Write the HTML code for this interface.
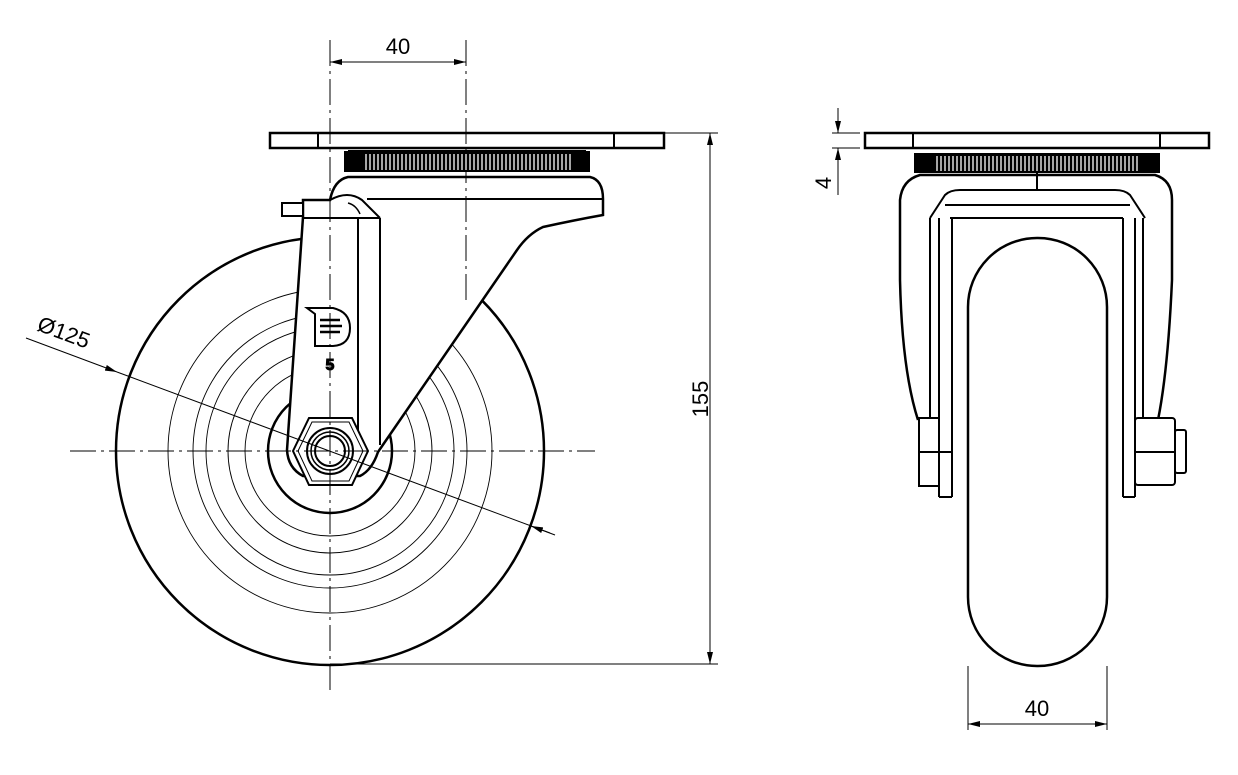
<!DOCTYPE html>
<html><head><meta charset="utf-8"><style>
html,body{margin:0;padding:0;background:#fff;width:1238px;height:775px;overflow:hidden}
svg{display:block}
text{font-family:"Liberation Sans",sans-serif;fill:#000}
</style></head><body>
<svg width="1238" height="775" viewBox="0 0 1238 775" xmlns="http://www.w3.org/2000/svg">
<defs>
<marker id="ar" markerWidth="12" markerHeight="6" refX="12" refY="3" orient="auto" markerUnits="userSpaceOnUse"><path d="M0,0 L12,3 L0,6 Z" fill="#000"/></marker>
<marker id="al" markerWidth="12" markerHeight="6" refX="0" refY="3" orient="auto" markerUnits="userSpaceOnUse"><path d="M12,0 L0,3 L12,6 Z" fill="#000"/></marker>
</defs>
<g fill="none" stroke="#000">
<!-- LEFT VIEW wheel -->
<circle cx="330" cy="451" r="214" stroke-width="2.5"/>
<g stroke-width="0.9">
<circle cx="330" cy="451" r="162"/><circle cx="330" cy="451" r="137"/><circle cx="330" cy="451" r="124"/><circle cx="330" cy="451" r="102"/><circle cx="330" cy="451" r="85"/>
</g>
<circle cx="330" cy="451" r="62" stroke-width="2.5" fill="#fff"/>
<!-- housing + fork -->
<path d="M330,200 Q334,180 348,177 L590,177 Q603,180 603,199 L603,215 Q575,220 543,227 Q528,234 517,250 L378,452 Q372,470 360,476 L303,476 Q288,468 287,450 L303,217 L303,200 Z" fill="#fff" stroke-width="2.5"/>
<line x1="367" y1="199" x2="603" y2="199" stroke-width="2"/>
<line x1="303" y1="218" x2="380" y2="218" stroke-width="2"/>
<line x1="358" y1="218" x2="358" y2="470" stroke-width="2"/>
<line x1="380" y1="218" x2="380" y2="445" stroke-width="2"/>
<path d="M330,200 Q348,190 362,200 L380,218" stroke-width="2"/>
<path d="M348,203 Q356,205 360,214" stroke-width="1.5"/>
<rect x="282" y="203" width="21" height="13" fill="#fff" stroke-width="2"/>
<!-- plate & ring -->
<rect x="270" y="133" width="394" height="15" fill="#fff" stroke-width="2.5"/>
<line x1="318" y1="133" x2="318" y2="148" stroke-width="2"/>
<line x1="614" y1="133" x2="614" y2="148" stroke-width="2"/>
<rect x="344" y="151" width="246" height="21" fill="#000" stroke="none"/>
<path d="M348,151 L586,151" stroke-width="2"/>
<!-- hex nut -->
<polygon points="293,451 309,418 352,418 368,451 352,485 309,485" fill="#fff" stroke-width="2"/>
<polygon points="298,451 312,422 349,422 363,451 349,481 312,481" stroke-width="1"/>
<circle cx="330" cy="451" r="23" stroke-width="2"/>
<circle cx="330" cy="451" r="19" stroke-width="1.5"/>
<circle cx="330" cy="451" r="15" stroke-width="2"/>
<!-- logo -->
<path d="M307,308 L333,308 Q350,312 350,328 Q350,345 333,346 L315,346 L315,314 L307,308 Z" stroke-width="2"/>
<path d="M320,320 L340,320 M320,326 L342,326 M320,332 L340,332" stroke-width="2.5"/>
<text x="330" y="370" font-size="16" font-weight="bold" text-anchor="middle">5</text>
<!-- center lines -->
<g stroke-width="1" stroke-dasharray="26,5,3,5">
<line x1="330" y1="40" x2="330" y2="690"/>
<line x1="466" y1="40" x2="466" y2="300"/>
<line x1="70" y1="451" x2="595" y2="451"/>
</g>
<!-- dims left -->
<line x1="330" y1="62" x2="466" y2="62" stroke-width="1" marker-start="url(#al)" marker-end="url(#ar)"/>
<line x1="664" y1="133" x2="718" y2="133" stroke-width="1"/>
<line x1="330" y1="664" x2="718" y2="664" stroke-width="1"/>
<line x1="710" y1="133" x2="710" y2="664" stroke-width="1" marker-start="url(#al)" marker-end="url(#ar)"/>
<line x1="26" y1="338" x2="117" y2="372" stroke-width="1" marker-end="url(#ar)"/>
<line x1="117" y1="372" x2="550" y2="533" stroke-width="1"/>
<line x1="555" y1="535" x2="531" y2="526" stroke-width="1" marker-end="url(#ar)"/>

<!-- RIGHT VIEW -->
<path d="M918,420 Q902,370 900,280 L900,200 Q902,180 920,175 L1155,175 Q1172,180 1172,200 L1172,280 Q1168,370 1158,420" fill="#fff" stroke-width="2.5"/>
<line x1="1037" y1="173" x2="1037" y2="191" stroke-width="2"/>
<path d="M930,218 L945,195 Q950,190 960,190 L1115,190 Q1125,190 1130,195 L1145,218" stroke-width="2"/>
<line x1="945" y1="205" x2="1130" y2="205" stroke-width="2"/>
<line x1="950" y1="218" x2="1123" y2="218" stroke-width="2"/>
<g stroke-width="2">
<line x1="930" y1="218" x2="930" y2="420"/><line x1="939" y1="218" x2="939" y2="497"/><line x1="952" y1="218" x2="952" y2="497"/>
<line x1="1123" y1="218" x2="1123" y2="497"/><line x1="1135" y1="218" x2="1135" y2="497"/><line x1="1143" y1="218" x2="1143" y2="420"/>
<line x1="939" y1="497" x2="952" y2="497"/><line x1="1123" y1="497" x2="1135" y2="497"/>
</g>
<rect x="968" y="238" width="139" height="428" rx="69" ry="69" fill="#fff" stroke-width="2.5"/>
<rect x="919" y="418" width="20" height="68" fill="#fff" stroke-width="2"/>
<line x1="919" y1="452" x2="952" y2="452" stroke-width="2"/>
<rect x="1135" y="418" width="40" height="67" rx="3" fill="#fff" stroke-width="2"/>
<line x1="1135" y1="452" x2="1175" y2="452" stroke-width="2"/>
<rect x="1175" y="430" width="11" height="43" rx="2" fill="#fff" stroke-width="2"/>
<rect x="865" y="133" width="344" height="15" fill="#fff" stroke-width="2.5"/>
<line x1="913" y1="133" x2="913" y2="148" stroke-width="2"/>
<line x1="1160" y1="133" x2="1160" y2="148" stroke-width="2"/>
<rect x="914" y="153" width="246" height="20" fill="#000" stroke="none"/>
<!-- dims right -->
<line x1="832" y1="133" x2="860" y2="133" stroke-width="1"/>
<line x1="832" y1="148" x2="860" y2="148" stroke-width="1"/>
<line x1="838" y1="108" x2="838" y2="133" stroke-width="1" marker-end="url(#ar)"/>
<line x1="838" y1="195" x2="838" y2="148" stroke-width="1" marker-end="url(#ar)"/>
<line x1="968" y1="666" x2="968" y2="730" stroke-width="1"/>
<line x1="1107" y1="666" x2="1107" y2="730" stroke-width="1"/>
<line x1="968" y1="724" x2="1107" y2="724" stroke-width="1" marker-start="url(#al)" marker-end="url(#ar)"/>
</g>
<g stroke="#fff" stroke-width="1.3">
<path d="M366,154V170M370,154V170M374,154V170M378,154V170M382,154V170M386,154V170M390,154V170M394,154V170M398,154V170M402,154V170M406,154V170M410,154V170M414,154V170M418,154V170M422,154V170M426,154V170M430,154V170M434,154V170M438,154V170M442,154V170M446,154V170M450,154V170M454,154V170M458,154V170M462,154V170M466,154V170M470,154V170M474,154V170M478,154V170M482,154V170M486,154V170M490,154V170M494,154V170M498,154V170M502,154V170M506,154V170M510,154V170M514,154V170M518,154V170M522,154V170M526,154V170M530,154V170M534,154V170M538,154V170M542,154V170M546,154V170M550,154V170M554,154V170M558,154V170M562,154V170M566,154V170M570,154V170"/>
<path d="M937,156V171M941,156V171M945,156V171M949,156V171M953,156V171M957,156V171M961,156V171M965,156V171M969,156V171M973,156V171M977,156V171M981,156V171M985,156V171M989,156V171M993,156V171M997,156V171M1001,156V171M1005,156V171M1009,156V171M1013,156V171M1017,156V171M1021,156V171M1025,156V171M1029,156V171M1033,156V171M1037,156V171M1041,156V171M1045,156V171M1049,156V171M1053,156V171M1057,156V171M1061,156V171M1065,156V171M1069,156V171M1073,156V171M1077,156V171M1081,156V171M1085,156V171M1089,156V171M1093,156V171M1097,156V171M1101,156V171M1105,156V171M1109,156V171M1113,156V171M1117,156V171M1121,156V171M1125,156V171M1129,156V171M1133,156V171M1137,156V171"/>
</g>
<text x="398" y="54" font-size="22" text-anchor="middle">40</text>
<text x="1037" y="716" font-size="22" text-anchor="middle">40</text>
<text transform="translate(708,399) rotate(-90)" font-size="22" text-anchor="middle">155</text>
<text transform="translate(831,183) rotate(-90)" font-size="22" text-anchor="middle">4</text>
<text transform="translate(36,330) rotate(20.4)" font-size="22">Ø125</text>
</svg>
</body></html>
